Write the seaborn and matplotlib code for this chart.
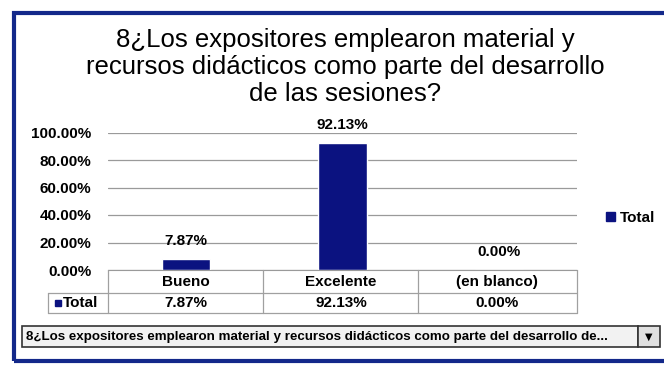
import matplotlib
matplotlib.use("Agg")
import matplotlib.pyplot as plt
import seaborn as sns
import pandas as pd
from matplotlib.patches import Rectangle, Patch
from matplotlib.lines import Line2D

sns.set_style("white")
plt.rcParams['font.family'] = ['Liberation Sans', 'DejaVu Sans']
plt.rcParams['text.color'] = 'black'
plt.rcParams['ytick.color'] = 'black'

# datos
categorias = ["Bueno", "Excelente", "(en blanco)"]
porcentajes = [7.87, 92.13, 0.00]
etiquetas = ["7.87%", "92.13%", "0.00%"]
ticks_y = [0, 20, 40, 60, 80, 100]
serie = "Total"
titulo = "8¿Los expositores emplearon material y\nrecursos didácticos como parte del desarrollo\nde las sesiones?"
filtro = "8¿Los expositores emplearon material y recursos didácticos como parte del desarrollo de..."

navy = "#0b1280"
W, H = 664, 366

def fx(px):
    return px / W

def fy(py):
    return 1 - py / H

df = pd.DataFrame({"categoria": categorias, "pct": porcentajes})

fig = plt.figure(figsize=(6.64, 3.66), dpi=100)
ax = fig.add_axes([fx(108), fy(270), fx(577) - fx(108), fy(132.5) - fy(270)])

sns.barplot(data=df, x="categoria", y="pct", color=navy, width=0.31,
            saturation=1, ax=ax)
ax.set_xlim(-0.5, 2.5)
ax.set_ylim(0, 100)
ax.set_yticks(ticks_y)
ax.set_yticklabels([f"{t:.2f}%" for t in ticks_y], fontsize=11, fontweight="bold")
ax.set_xticks([])
ax.set_xlabel("")
ax.set_ylabel("")
ax.tick_params(axis="y", length=0, pad=12)
ax.grid(axis="y", color="#9a9a9a", lw=0.9)
ax.set_axisbelow(True)
for s in ["top", "right", "left"]:
    ax.spines[s].set_visible(False)
ax.spines["bottom"].set_color("#9a9a9a")

# etiquetas de datos
for i, (v, t) in enumerate(zip(porcentajes, etiquetas)):
    ax.annotate(t, (i, v), xytext=(0, 8), textcoords="offset points",
                ha="center", va="bottom", fontsize=11, fontweight="bold")

# titulo
fig.text(fx(345), fy(67), titulo, ha="center", va="center", fontsize=18.5,
         linespacing=1.18)

# leyenda
leg = fig.legend(handles=[Patch(color=navy, label=serie)], loc="center left",
                 bbox_to_anchor=(fx(592), fy(218)), frameon=False,
                 handlelength=0.6, handleheight=0.6, handletextpad=0.3,
                 prop={"size": 11, "weight": "bold"})

# tabla de datos
gris = "#a0a0a0"
for xs, ys in [([fx(48), fx(577)], [fy(293), fy(293)]),
               ([fx(48), fx(577)], [fy(313), fy(313)]),
               ([fx(263), fx(263)], [fy(270), fy(313)]),
               ([fx(418), fx(418)], [fy(270), fy(313)]),
               ([fx(577), fx(577)], [fy(270), fy(313)]),
               ([fx(108), fx(108)], [fy(270), fy(313)]),
               ([fx(48), fx(48)], [fy(293), fy(313)])]:
    fig.add_artist(Line2D(xs, ys, color=gris, lw=0.9))
centros = [fx(186), fx(341), fx(497)]
for c, cat, t in zip(centros, categorias, etiquetas):
    fig.text(c, fy(282), cat, ha="center", va="center", fontsize=11, fontweight="bold")
    fig.text(c, fy(303), t, ha="center", va="center", fontsize=11, fontweight="bold")
fig.add_artist(Rectangle((fx(55), fy(306)), fx(6), fy(300) - fy(306), color=navy))
fig.text(fx(63), fy(303), serie, ha="left", va="center", fontsize=11, fontweight="bold")

# desplegable del filtro
fig.add_artist(Rectangle((fx(22), fy(347)), fx(638) - fx(22), fy(326) - fy(347),
                         facecolor="#f2f2f2", edgecolor="#333333", lw=1.2))
fig.add_artist(Rectangle((fx(638), fy(347)), fx(660) - fx(638), fy(326) - fy(347),
                         facecolor="#e0e0e0", edgecolor="#333333", lw=1.2))
fig.text(fx(26), fy(337), filtro, ha="left", va="center", fontsize=9.6, fontweight="bold")
fig.text(fx(649), fy(337), "▼", ha="center", va="center", fontsize=7,
         family=["DejaVu Sans"])

# marco
fig.add_artist(Rectangle((fx(14), fy(361)), fx(700) - fx(14), fy(13) - fy(361),
                         facecolor="none", edgecolor="#13288a", lw=3))

fig.savefig("out.png", dpi=100, facecolor="white")
